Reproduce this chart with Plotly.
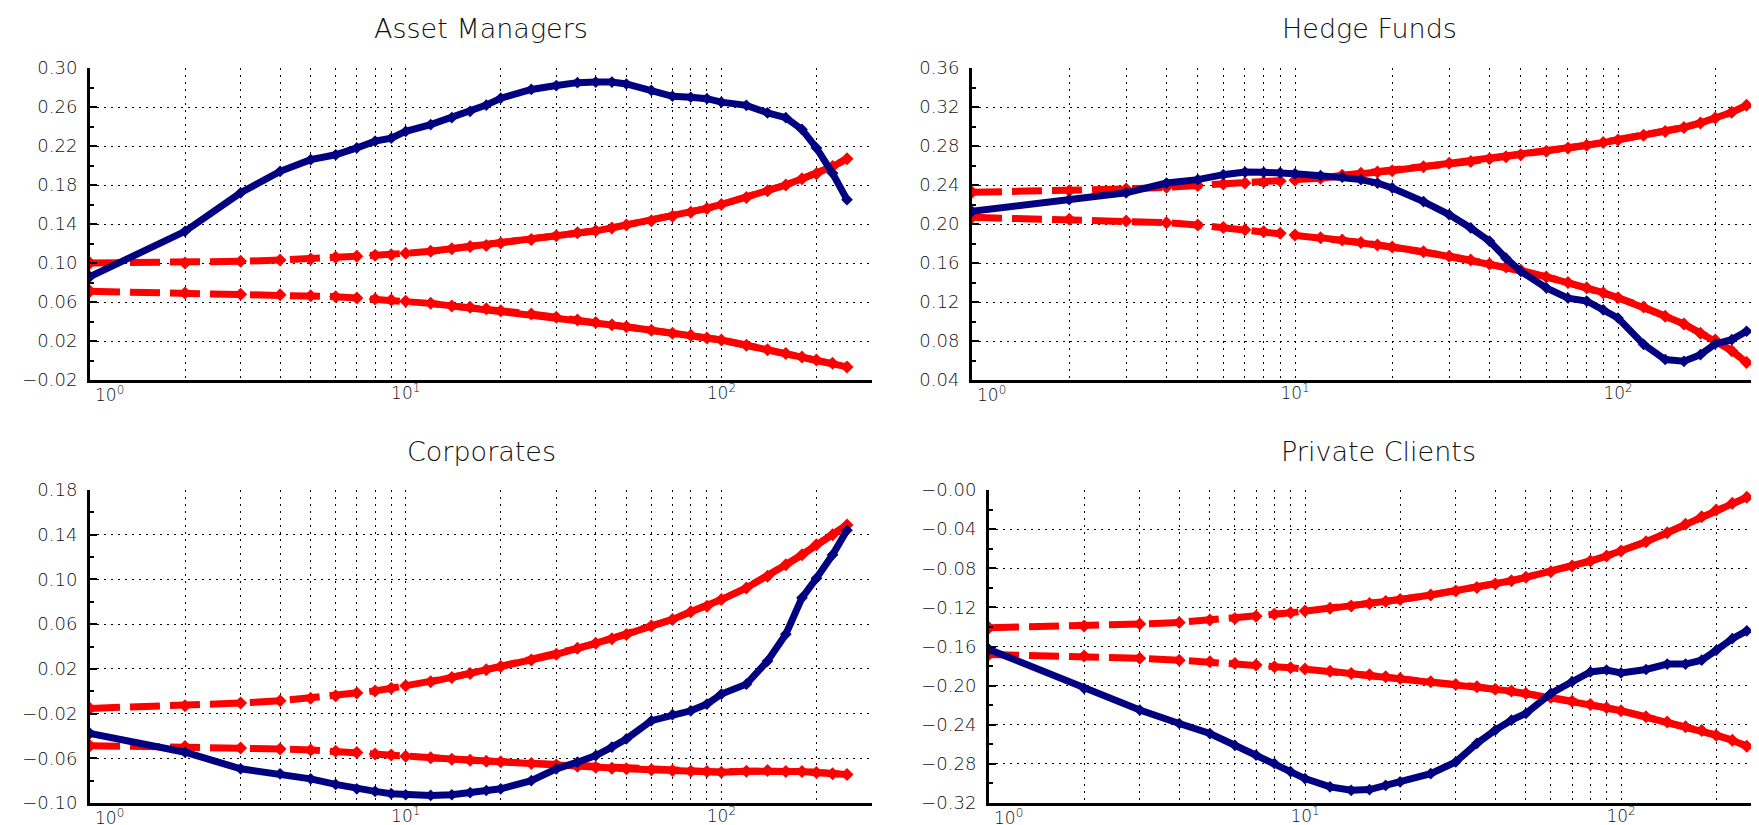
import plotly.graph_objects as go

# ---------------- data ----------------
lags = [1, 2, 3, 4, 5, 6, 7, 8, 9, 10, 12, 14, 16, 18, 20, 25, 30, 35, 40, 45,
        50, 60, 70, 80, 90, 100, 120, 140, 160, 180, 200, 225, 250]

titles = ["Asset Managers", "Hedge Funds", "Corporates", "Private Clients"]

# Asset Managers
am_val = [0.086, 0.1325, 0.172, 0.194, 0.206, 0.211, 0.218, 0.225, 0.228, 0.235,
          0.242, 0.249, 0.2556, 0.262, 0.269, 0.278, 0.282, 0.285, 0.2856, 0.2856,
          0.2836, 0.277, 0.271, 0.270, 0.2685, 0.265, 0.2617, 0.254, 0.249, 0.237,
          0.218, 0.192, 0.165]
am_hi = [0.100, 0.100, 0.1017, 0.103, 0.104, 0.106, 0.107, 0.108, 0.1085, 0.110,
         0.112, 0.1147, 0.117, 0.118, 0.1205, 0.124, 0.128, 0.131, 0.133, 0.136,
         0.139, 0.1434, 0.148, 0.152, 0.156, 0.160, 0.1673, 0.174, 0.180, 0.1865,
         0.1916, 0.199, 0.207]
am_lo = [0.071, 0.0693, 0.068, 0.0675, 0.0665, 0.0655, 0.064, 0.063, 0.062, 0.0607,
         0.0586, 0.056, 0.0545, 0.053, 0.051, 0.0477, 0.0443, 0.0415, 0.039, 0.0367,
         0.0347, 0.031, 0.028, 0.0258, 0.023, 0.021, 0.0156, 0.011, 0.0073, 0.0035,
         0.0005, -0.0029, -0.0066]

# Hedge Funds
hf_val = [0.213, 0.225, 0.232, 0.242, 0.2455, 0.2506, 0.2533, 0.253, 0.2526, 0.2516,
          0.2496, 0.248, 0.2455, 0.242, 0.237, 0.223, 0.2096, 0.196, 0.1825, 0.165,
          0.1515, 0.1344, 0.124, 0.121, 0.112, 0.1036, 0.0766, 0.061, 0.0592, 0.066,
          0.077, 0.0814, 0.090]
hf_hi = [0.2325, 0.234, 0.236, 0.2377, 0.2394, 0.241, 0.242, 0.243, 0.244, 0.245,
         0.247, 0.250, 0.252, 0.2533, 0.2547, 0.2588, 0.2622, 0.264, 0.267, 0.269,
         0.271, 0.2745, 0.278, 0.2807, 0.2835, 0.2862, 0.291, 0.295, 0.299, 0.3036,
         0.3087, 0.3145, 0.3217]
hf_lo = [0.2068, 0.205, 0.203, 0.2014, 0.199, 0.1964, 0.194, 0.192, 0.1904, 0.1887,
         0.186, 0.1836, 0.181, 0.1785, 0.1764, 0.1716, 0.167, 0.163, 0.159, 0.156,
         0.1525, 0.1457, 0.140, 0.1347, 0.1296, 0.1244, 0.1149, 0.1053, 0.0974, 0.088,
         0.081, 0.070, 0.058]

# Corporates
co_val = [-0.0377, -0.0546, -0.0694, -0.0739, -0.0784, -0.0834, -0.0873, -0.0896, -0.0917, -0.0926,
          -0.0932, -0.0926, -0.0908, -0.0888, -0.0873, -0.080, -0.0694, -0.0635, -0.0576, -0.050,
          -0.0427, -0.0264, -0.021, -0.0175, -0.0115, -0.0026, 0.0063, 0.027, 0.051, 0.0835,
          0.101, 0.122, 0.144]
co_hi = [-0.0154, -0.013, -0.0106, -0.0086, -0.0062, -0.0041, -0.0017, 0.0003, 0.0027, 0.0048,
         0.0084, 0.0123, 0.0159, 0.0191, 0.022, 0.028, 0.033, 0.0384, 0.0428, 0.047,
         0.0508, 0.0583, 0.0642, 0.071, 0.076, 0.082, 0.0924, 0.1028, 0.1132, 0.1221,
         0.131, 0.140, 0.1488]
co_lo = [-0.0487, -0.0495, -0.0507, -0.0516, -0.0525, -0.0537, -0.0549, -0.0561, -0.057, -0.0582,
         -0.0596, -0.0608, -0.0617, -0.0626, -0.0632, -0.0647, -0.0659, -0.0671, -0.068, -0.0689,
         -0.0694, -0.0703, -0.0709, -0.0715, -0.0718, -0.0724, -0.0715, -0.0709, -0.0718, -0.0718,
         -0.0727, -0.0739, -0.0745]

# Private Clients
pc_val = [-0.163, -0.2029, -0.225, -0.2387, -0.249, -0.261, -0.271, -0.2796, -0.288, -0.295,
          -0.3035, -0.307, -0.3063, -0.302, -0.2985, -0.290, -0.278, -0.259, -0.2455, -0.2353,
          -0.2285, -0.208, -0.196, -0.186, -0.184, -0.187, -0.1835, -0.178, -0.178, -0.174,
          -0.164, -0.152, -0.144]
pc_hi = [-0.1408, -0.139, -0.137, -0.1354, -0.133, -0.1313, -0.129, -0.127, -0.1256, -0.1238,
         -0.121, -0.1186, -0.116, -0.114, -0.112, -0.1074, -0.1033, -0.0996, -0.096, -0.0928,
         -0.0893, -0.0835, -0.0777, -0.0726, -0.0675, -0.0624, -0.0529, -0.0437, -0.0351, -0.0273,
         -0.0205, -0.0136, -0.0075]
pc_lo = [-0.1681, -0.1698, -0.172, -0.174, -0.1756, -0.1773, -0.179, -0.1807, -0.1817, -0.1831,
         -0.1852, -0.1875, -0.189, -0.191, -0.1927, -0.196, -0.1988, -0.2012, -0.2036, -0.2056,
         -0.208, -0.2121, -0.2159, -0.2193, -0.2227, -0.2257, -0.2319, -0.2373, -0.242, -0.246,
         -0.2507, -0.2558, -0.2619]

# tick labels
x_tickvals = [1, 2, 3, 4, 5, 6, 7, 8, 9, 10, 20, 30, 40, 50, 60, 70, 80, 90, 100, 200, 300]
x_ticktext = ["10<sup>0</sup>", "", "", "", "", "", "", "", "",
              "10<sup>1</sup>", "", "", "", "", "", "", "", "",
              "10<sup>2</sup>", "", ""]

am_yticks = [-0.02, 0.02, 0.06, 0.10, 0.14, 0.18, 0.22, 0.26, 0.30]
am_ylabels = ["\u22120.02", "0.02", "0.06", "0.10", "0.14", "0.18", "0.22", "0.26", "0.30"]
hf_yticks = [0.04, 0.08, 0.12, 0.16, 0.20, 0.24, 0.28, 0.32, 0.36]
hf_ylabels = ["0.04", "0.08", "0.12", "0.16", "0.20", "0.24", "0.28", "0.32", "0.36"]
co_yticks = [-0.10, -0.06, -0.02, 0.02, 0.06, 0.10, 0.14, 0.18]
co_ylabels = ["\u22120.10", "\u22120.06", "\u22120.02", "0.02", "0.06", "0.10", "0.14", "0.18"]
pc_yticks = [-0.32, -0.28, -0.24, -0.20, -0.16, -0.12, -0.08, -0.04, 0.00]
pc_ylabels = ["\u22120.32", "\u22120.28", "\u22120.24", "\u22120.20", "\u22120.16",
              "\u22120.12", "\u22120.08", "\u22120.04", "\u22120.00"]

# ---------------- style / layout ----------------
W, H = 1759, 825
BLUE = "#000080"
RED = "#ff0000"
FONT = "DejaVu Sans"
TXT = "#111111"
XFONT = dict(family=FONT, size=17, color=TXT, weight=300)

panels = [
    dict(val=am_val, hi=am_hi, lo=am_lo, yt=am_yticks, yl=am_ylabels,
         px=(82, 864), py=(60, 372), xr=2.4771),
    dict(val=hf_val, hi=hf_hi, lo=hf_lo, yt=hf_yticks, yl=hf_ylabels,
         px=(964, 1759), py=(60, 372), xr=2.4613),
    dict(val=co_val, hi=co_hi, lo=co_lo, yt=co_yticks, yl=co_ylabels,
         px=(82, 864), py=(482, 795), xr=2.4771),
    dict(val=pc_val, hi=pc_hi, lo=pc_lo, yt=pc_yticks, yl=pc_ylabels,
         px=(981, 1759), py=(482, 795), xr=2.4620),
]

# the first decade label sits just right of the y axis (drawn as annotation)
axis_ticktext = [""] + x_ticktext[1:]

fig = go.Figure()
solid_from = lags.index(12)
annotations = []

for i, p in enumerate(panels, start=1):
    xa = "x" if i == 1 else f"x{i}"
    ya = "y" if i == 1 else f"y{i}"
    for band in (p["hi"], p["lo"]):
        fig.add_trace(go.Scatter(
            x=lags, y=band, xaxis=xa, yaxis=ya, mode="lines+markers",
            line=dict(color=RED, width=7, dash="30px,10px"),
            marker=dict(symbol="diamond", size=10, color=RED),
            showlegend=False, hoverinfo="skip"))
        fig.add_trace(go.Scatter(
            x=lags[solid_from:], y=band[solid_from:], xaxis=xa, yaxis=ya,
            mode="lines", line=dict(color=RED, width=7),
            showlegend=False, hoverinfo="skip"))
    fig.add_trace(go.Scatter(
        x=lags, y=p["val"], xaxis=xa, yaxis=ya, mode="lines+markers",
        line=dict(color=BLUE, width=7),
        marker=dict(symbol="diamond", size=9, color=BLUE),
        showlegend=False, hoverinfo="skip"))

    xdom = [p["px"][0] / W, p["px"][1] / W]
    ydom = [1 - p["py"][1] / H, 1 - p["py"][0] / H]
    yt = p["yt"]
    minor_vals = [(yt[k] + yt[k + 1]) / 2 for k in range(len(yt) - 1)]

    xkey = "xaxis" if i == 1 else f"xaxis{i}"
    ykey = "yaxis" if i == 1 else f"yaxis{i}"
    fig.update_layout(**{
        xkey: dict(
            type="log", domain=xdom, anchor=ya, range=[0, p["xr"]],
            tickmode="array", tickvals=x_tickvals, ticktext=axis_ticktext,
            showgrid=True, gridcolor="black", gridwidth=1, griddash="2px,5px",
            showline=True, linecolor="black", linewidth=3, ticks="",
            zeroline=False, automargin=False, ticklabelstandoff=-4,
            tickfont=XFONT, fixedrange=True),
        ykey: dict(
            domain=ydom, anchor=xa, range=[yt[0], yt[-1]],
            tickmode="array", tickvals=yt, ticktext=p["yl"],
            showgrid=True, gridcolor="black", gridwidth=1, griddash="2px,5px",
            showline=True, linecolor="black", linewidth=3,
            ticks="inside", ticklen=7, tickwidth=2, tickcolor="black",
            minor=dict(tickvals=minor_vals, ticks="inside", ticklen=4,
                       tickwidth=1.5, tickcolor="black", showgrid=False),
            zeroline=False, ticklabelstandoff=6, automargin=False,
            tickfont=dict(family=FONT, size=18, color=TXT, weight=300),
            fixedrange=True),
    })
    annotations.append(dict(
        text=titles[i - 1], xref="paper", yref="paper",
        x=(xdom[0] + xdom[1]) / 2, y=1 - (20 if i <= 2 else 443) / H,
        xanchor="center", yanchor="middle", showarrow=False,
        font=dict(family=FONT, size=27, color=TXT, weight=300)))
    annotations.append(dict(
        text=x_ticktext[0], xref=xa, yref=f"{ya} domain",
        x=0, y=0, xanchor="left", yanchor="top", xshift=3, yshift=-1,
        showarrow=False, font=XFONT))

fig.update_layout(
    width=W, height=H, margin=dict(l=0, r=0, t=0, b=0, autoexpand=False),
    paper_bgcolor="white", plot_bgcolor="white",
    annotations=annotations, showlegend=False)

fig.write_html("out.html")
